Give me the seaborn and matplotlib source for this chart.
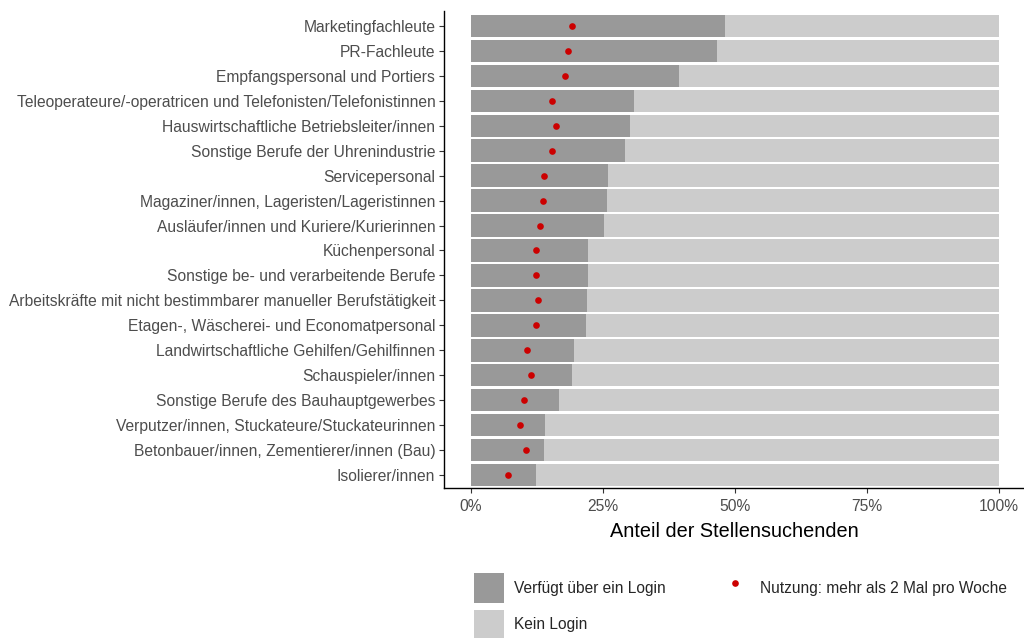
import matplotlib
matplotlib.use("Agg")
import matplotlib.pyplot as plt
import seaborn as sns
import pandas as pd
from matplotlib.patches import Patch
from matplotlib.lines import Line2D

categories = [
    "Marketingfachleute",
    "PR-Fachleute",
    "Empfangspersonal und Portiers",
    "Teleoperateure/-operatricen und Telefonisten/Telefonistinnen",
    "Hauswirtschaftliche Betriebsleiter/innen",
    "Sonstige Berufe der Uhrenindustrie",
    "Servicepersonal",
    "Magaziner/innen, Lageristen/Lageristinnen",
    "Ausläufer/innen und Kuriere/Kurierinnen",
    "Küchenpersonal",
    "Sonstige be- und verarbeitende Berufe",
    "Arbeitskräfte mit nicht bestimmbarer manueller Berufstätigkeit",
    "Etagen-, Wäscherei- und Economatpersonal",
    "Landwirtschaftliche Gehilfen/Gehilfinnen",
    "Schauspieler/innen",
    "Sonstige Berufe des Bauhauptgewerbes",
    "Verputzer/innen, Stuckateure/Stuckateurinnen",
    "Betonbauer/innen, Zementierer/innen (Bau)",
    "Isolierer/innen",
]
login = [48.1, 46.6, 39.5, 31.0, 30.2, 29.3, 26.0, 25.8, 25.3, 22.3,
         22.2, 22.1, 21.8, 19.6, 19.1, 16.8, 14.0, 13.8, 12.3]
nutzung = [19.1, 18.4, 17.9, 15.3, 16.2, 15.4, 13.8, 13.6, 13.1, 12.4,
           12.4, 12.7, 12.3, 10.6, 11.4, 10.1, 9.3, 10.4, 7.0]
total = [100.0] * len(categories)
xticks = [0, 25, 50, 75, 100]
xticklabels = ["0%", "25%", "50%", "75%", "100%"]

df = pd.DataFrame({"Beruf": categories, "Login": login,
                   "Nutzung": nutzung, "Total": total})

sns.set_theme(style="white")
plt.rcParams["font.family"] = ["Liberation Sans", "DejaVu Sans"]

DARK = "#999999"
LIGHT = "#CCCCCC"
RED = "#CC0000"

fig = plt.figure(figsize=(10.24, 6.38), dpi=100)
ax = fig.add_axes([444.3 / 1024, 1 - 488 / 638, 581 / 1024, 477 / 638])

sns.barplot(data=df, x="Total", y="Beruf", order=categories, color=LIGHT,
            width=0.9, saturation=1, linewidth=0, ax=ax, orient="h")
sns.barplot(data=df, x="Login", y="Beruf", order=categories, color=DARK,
            width=0.9, saturation=1, linewidth=0, ax=ax, orient="h")
sns.stripplot(data=df, x="Nutzung", y="Beruf", order=categories, color=RED,
              jitter=False, size=4.8, linewidth=0, ax=ax, orient="h", zorder=5)

ax.set_xlim(-5, 105)
ax.set_ylim(len(categories) - 0.48, -0.6)
ax.set_xticks(xticks)
ax.set_xticklabels(xticklabels)
ax.set_ylabel("")
ax.set_xlabel("Anteil der Stellensuchenden", fontsize=14.3, color="black",
              labelpad=6)

for s in ["top", "right"]:
    ax.spines[s].set_visible(False)
for s in ["left", "bottom"]:
    ax.spines[s].set_color("black")
    ax.spines[s].set_linewidth(1.0)

ax.tick_params(axis="x", pad=4.5)
ax.tick_params(axis="y", pad=3)
ax.tick_params(axis="both", which="major", length=3.5, width=0.8,
               color="#333333", labelsize=11.25, labelcolor="#4D4D4D",
               left=True, bottom=True)

handles = [
    Patch(facecolor=DARK, edgecolor="none"),
    Patch(facecolor=LIGHT, edgecolor="none"),
    Line2D([], [], marker="o", linestyle="none", color=RED,
           markersize=4.8, markeredgewidth=0),
]
labels = ["Verfügt über ein Login", "Kein Login",
          "Nutzung: mehr als 2 Mal pro Woche"]
fig.legend(handles, labels, loc="upper left",
           bbox_to_anchor=(474 / 1024, 1 - 573 / 638), ncol=2,
           frameon=False, fontsize=11.2, borderpad=0, borderaxespad=0,
           handlelength=1.9, handleheight=2.55, handletextpad=0.65,
           labelspacing=0.47, columnspacing=3.5)

fig.savefig("out.png", dpi=100)
